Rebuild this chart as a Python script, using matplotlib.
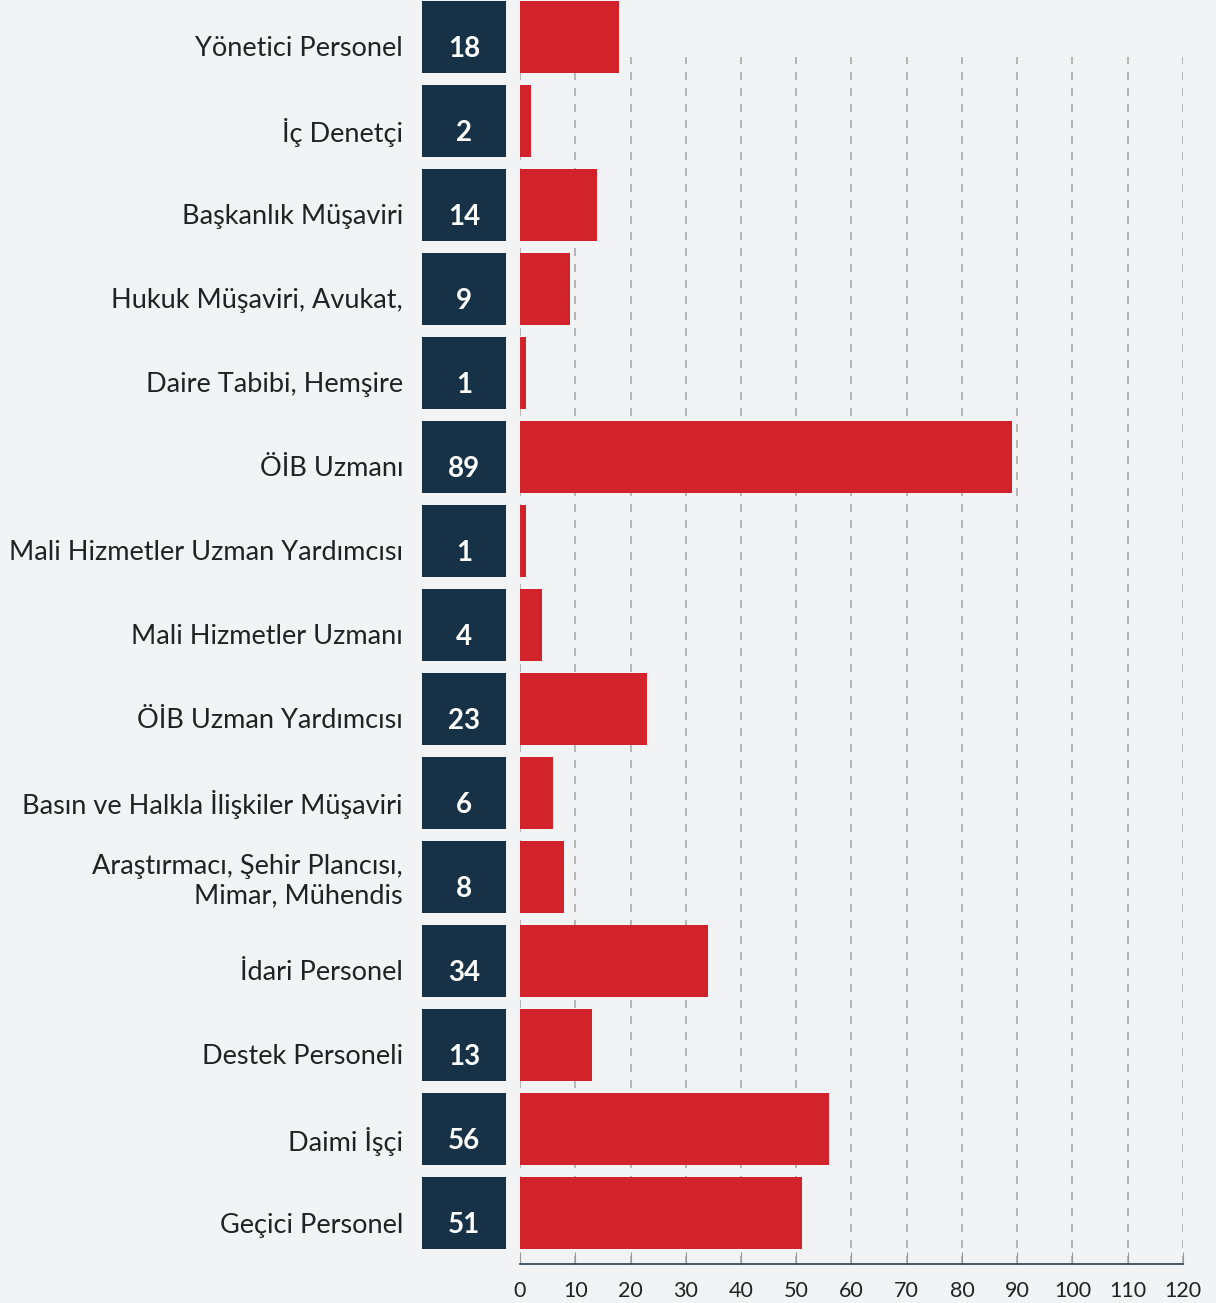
import numpy as np
import matplotlib.pyplot as plt
import matplotlib.transforms as mtransforms

categories = [
    'Yönetici Personel', 'İç Denetçi', 'Başkanlık Müşaviri', 'Hukuk Müşaviri, Avukat,',
    'Daire Tabibi, Hemşire', 'ÖİB Uzmanı', 'Mali Hizmetler Uzman Yardımcısı',
    'Mali Hizmetler Uzmanı', 'ÖİB Uzman Yardımcısı', 'Basın ve Halkla İlişkiler Müşaviri',
    'Araştırmacı, Şehir Plancısı,\nMimar, Mühendis', 'İdari Personel', 'Destek Personeli',
    'Daimi İşçi', 'Geçici Personel',
]
counts = [18, 2, 14, 9, 1, 89, 1, 4, 23, 6, 8, 34, 13, 56, 51]
x_ticks = list(range(0, 121, 10))

bg = '#f2f3f5'
red = '#d2232a'
navy = '#173246'
text_col = '#222222'

plt.rcParams['font.family'] = ['Lato', 'DejaVu Sans']

W, H = 1216, 1303
fig = plt.figure(figsize=(W / 100, H / 100), dpi=100, facecolor=bg)

ax_top_px, ax_bot_px = 0, 1264
ax = fig.add_axes([520 / W, (H - ax_bot_px) / H, (1183 - 520) / W, (ax_bot_px - ax_top_px) / H])
box = fig.add_axes([422 / W, (H - ax_bot_px) / H, 84 / W, (ax_bot_px - ax_top_px) / H], sharey=ax)

y = np.arange(len(categories))
ylim = ((ax_bot_px - 37) / 84, (ax_top_px - 37) / 84)

ax.set_facecolor(bg)
ax.barh(y, counts, height=72 / 84, color=red, zorder=3)
ax.set_xlim(0, 120)
ax.set_ylim(*ylim)
ax.set_xticks(x_ticks)
# dashed grid, stops a bit below the top edge
ax.vlines(x_ticks, 0, 1 - 57 / 1264, transform=ax.get_xaxis_transform(),
          colors='#aaaaaa', linestyles=(0, (4.8, 4.8)), linewidth=1.2, zorder=0)
ax.tick_params(axis='x', direction='in', length=9, color='#999999', labelsize=15.5,
               labelcolor=text_col, pad=12)
ax.tick_params(axis='y', left=False, labelleft=False)
for s in ['top', 'right', 'left']:
    ax.spines[s].set_visible(False)
ax.spines['bottom'].set_color('#2e3e4e')
ax.spines['bottom'].set_linewidth(1.2)

box.set_facecolor('none')
box.barh(y, [1] * len(y), height=72 / 84, color=navy)
box.set_xlim(0, 1)
box.set_ylim(*ylim)
num_tr = mtransforms.offset_copy(box.transData, fig=fig, x=0, y=-12, units='dots')
for i, v in enumerate(counts):
    box.text(0.5, i, str(v), ha='center', va='center', color='white',
             fontsize=20, fontweight='bold', transform=num_tr)
for i, lab in enumerate(categories):
    dy = -12 if '\n' not in lab else -4
    tr = mtransforms.offset_copy(box.get_yaxis_transform(), fig=fig, x=-19, y=dy, units='dots')
    box.text(0, i, lab, ha='right', va='center', color=text_col, fontsize=19.5,
             linespacing=1.2, transform=tr)
box.set_yticks([])
box.tick_params(axis='x', bottom=False, labelbottom=False)
for s in box.spines.values():
    s.set_visible(False)

fig.savefig('out.png', dpi=100, facecolor=bg)
